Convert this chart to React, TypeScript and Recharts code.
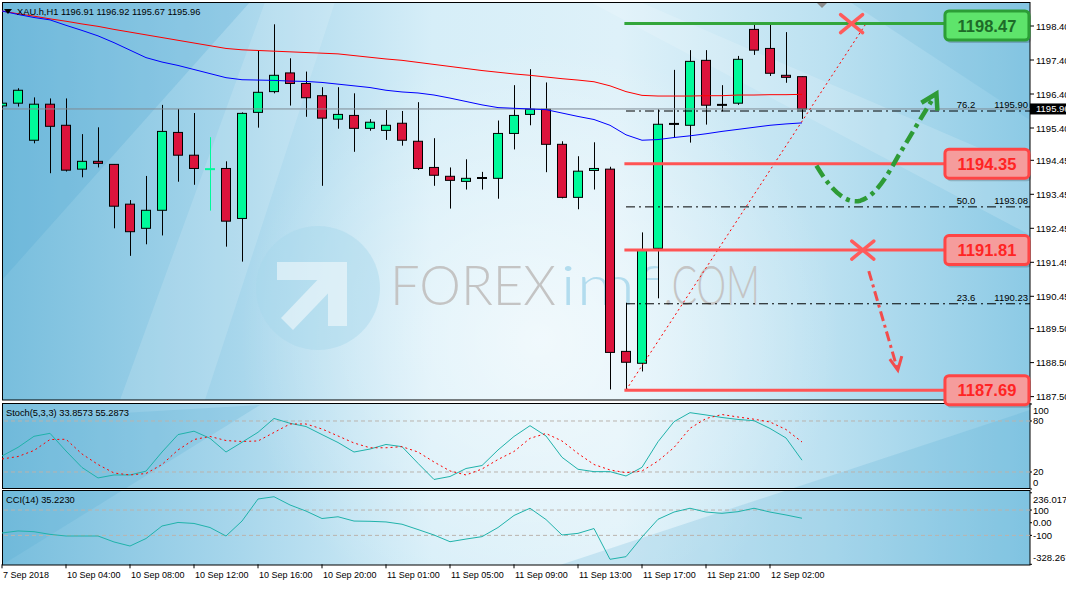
import React from 'react';
import { ComposedChart, Bar, Line, XAxis, YAxis, ReferenceLine, ReferenceDot } from 'recharts';

const W = 1066;
const H = 589;
const FONT = "'Liberation Sans', Arial, sans-serif";
const BULL = '#00fa9a';
const BEAR = '#dc143c';

// one entry per H1 candle
const times = [
  '7 Sep 23:00', '10 Sep 01:00', '10 Sep 02:00', '10 Sep 03:00', '10 Sep 04:00', '10 Sep 05:00',
  '10 Sep 06:00', '10 Sep 07:00', '10 Sep 08:00', '10 Sep 09:00', '10 Sep 10:00', '10 Sep 11:00',
  '10 Sep 12:00', '10 Sep 13:00', '10 Sep 14:00', '10 Sep 15:00', '10 Sep 16:00', '10 Sep 17:00',
  '10 Sep 18:00', '10 Sep 19:00', '10 Sep 20:00', '10 Sep 21:00', '10 Sep 22:00', '10 Sep 23:00',
  '11 Sep 01:00', '11 Sep 02:00', '11 Sep 03:00', '11 Sep 04:00', '11 Sep 05:00', '11 Sep 06:00',
  '11 Sep 07:00', '11 Sep 08:00', '11 Sep 09:00', '11 Sep 10:00', '11 Sep 11:00', '11 Sep 12:00',
  '11 Sep 13:00', '11 Sep 14:00', '11 Sep 15:00', '11 Sep 16:00', '11 Sep 17:00', '11 Sep 18:00',
  '11 Sep 19:00', '11 Sep 20:00', '11 Sep 21:00', '11 Sep 22:00', '11 Sep 23:00', '12 Sep 01:00',
  '12 Sep 02:00', '12 Sep 03:00', '12 Sep 04:00',
];

const open = [
  1196.05, 1196.13, 1195.04, 1196.1, 1195.48, 1194.19, 1194.42, 1194.33, 1193.16, 1192.45,
  1192.98, 1195.27, 1194.6, 1194.19, 1194.21, 1192.74, 1195.86, 1196.47, 1197.02, 1196.71,
  1196.35, 1195.66, 1195.77, 1195.39, 1195.33, 1195.54, 1195.01, 1194.24, 1193.98, 1193.83,
  1193.93, 1193.92, 1195.24, 1195.8, 1195.95, 1194.92, 1193.36, 1194.16, 1194.19, 1188.83,
  1188.48, 1191.86, 1195.52, 1195.48, 1197.39, 1196.08, 1196.13, 1198.3, 1197.74, 1196.95,
  1196.91,
];
const high = [
  1196.43, 1196.57, 1196.3, 1196.27, 1196.27, 1195.22, 1195.42, 1194.33, 1193.28, 1193.99,
  1196.08, 1195.96, 1195.84, 1195.13, 1194.42, 1195.86, 1197.69, 1198.45, 1197.45, 1197.06,
  1196.6, 1196.6, 1196.42, 1195.66, 1195.93, 1195.9, 1196.16, 1195.1, 1194.24, 1194.48,
  1194.11, 1195.62, 1196.66, 1197.13, 1196.74, 1195.01, 1194.57, 1194.98, 1194.26, 1190.26,
  1192.33, 1195.95, 1197.11, 1197.69, 1197.69, 1196.66, 1197.52, 1198.43, 1198.43, 1198.22,
  1196.92,
];
const low = [
  1195.34, 1196.03, 1194.95, 1194.07, 1194.12, 1193.95, 1194.24, 1192.45, 1191.64, 1191.98,
  1192.24, 1193.82, 1193.73, 1192.97, 1191.91, 1191.47, 1195.41, 1196.42, 1196.06, 1195.73,
  1193.7, 1195.38, 1194.7, 1195.32, 1195.05, 1194.88, 1194.17, 1193.7, 1193.03, 1193.59,
  1193.59, 1193.32, 1194.77, 1195.48, 1194.1, 1193.33, 1193.01, 1193.59, 1187.71, 1187.69,
  1188.24, 1190.39, 1195.11, 1194.97, 1195.5, 1195.89, 1196.08, 1197.55, 1196.93, 1196.73,
  1195.67,
];
const close = [
  1196.13, 1196.51, 1196.1, 1195.45, 1194.16, 1194.42, 1194.36, 1193.1, 1192.35, 1192.98,
  1195.3, 1194.6, 1194.21, 1194.19, 1192.66, 1195.83, 1196.45, 1196.95, 1196.71, 1196.29,
  1195.69, 1195.8, 1195.39, 1195.57, 1195.48, 1195.04, 1194.21, 1194.01, 1193.86, 1193.92,
  1193.93, 1195.24, 1195.77, 1195.95, 1194.92, 1193.36, 1194.13, 1194.21, 1188.8, 1188.51,
  1191.8, 1195.51, 1195.52, 1197.36, 1196.07, 1196.08, 1197.42, 1197.69, 1197.01, 1196.89,
  1195.96,
];

// moving averages (red slow, blue fast)
const maSlow = [
  1198.84, 1198.76, 1198.69, 1198.61, 1198.54, 1198.46, 1198.39, 1198.3, 1198.22, 1198.14,
  1198.06, 1197.98, 1197.9, 1197.82, 1197.74, 1197.7, 1197.68, 1197.66, 1197.64, 1197.62,
  1197.6, 1197.58, 1197.53, 1197.48, 1197.43, 1197.39, 1197.33, 1197.27, 1197.21, 1197.15,
  1197.09, 1197.04, 1196.99, 1196.95, 1196.9, 1196.85, 1196.81, 1196.76, 1196.64, 1196.47,
  1196.36, 1196.34, 1196.34, 1196.34, 1196.35, 1196.35, 1196.37, 1196.37, 1196.38, 1196.38,
  1196.39,
];
const maFast = [
  1198.84, 1198.74, 1198.65, 1198.58, 1198.42, 1198.27, 1198.11, 1197.91, 1197.69, 1197.47,
  1197.34, 1197.24, 1197.12, 1197.0, 1196.88, 1196.82, 1196.81, 1196.8, 1196.78, 1196.77,
  1196.74, 1196.69, 1196.64, 1196.59, 1196.51, 1196.46, 1196.43, 1196.37, 1196.28, 1196.18,
  1196.08, 1196.0, 1195.98, 1195.96, 1195.94, 1195.84, 1195.74, 1195.65, 1195.48, 1195.2,
  1195.04, 1195.06, 1195.12, 1195.17, 1195.23, 1195.3, 1195.36, 1195.42, 1195.48, 1195.52,
  1195.55,
];

const stochMain = [
  38.8, 49, 62, 65.5, 44.7, 25.3, 13, 16.5, 16.5, 21, 43.5, 64, 68, 59.6, 43.5, 55, 66.7,
  83, 77.3, 73.5, 64, 54.7, 43.5, 47, 52.4, 49.8, 30.2, 11.2, 14.7, 24.1, 27.6, 45.9, 61.8,
  74.5, 62.4, 37.3, 23.2, 20.4, 20.4, 15.3, 25.5, 55.6, 79.2, 89.8, 87.1, 84.1, 81.8, 80.4,
  71.2, 60, 33.86,
];
const stochSignal = [
  35.3, 38.2, 45.3, 58.2, 58.5, 41.2, 28.8, 18.8, 16.5, 18.2, 28.8, 45.9, 58.2, 61.8, 57,
  55.9, 56.5, 66.5, 76.5, 76.5, 70.6, 62.4, 54.1, 48.5, 48.5, 49.8, 43.5, 31.8, 21.2, 16.5,
  23.5, 34.7, 44.1, 59.6, 65.3, 56.5, 41.8, 28.8, 22.4, 19.2, 21.2, 32.9, 48.8, 71.4, 82.9,
  87.6, 84.7, 82.1, 78.8, 70, 55.29,
];
const cci = [
  -81, -65, -71, -92, -105, -105, -105, -152, -184, -125, -26, 2, -6, -38, -105, 13, 187,
  205, 140, 92, 33, 47, 13, 11, 6, -12, -54, -97, -150, -129, -110, -38, 57, 114, 25, -97,
  -84, -46, -289, -268, -113, 27, 84, 114, 84, 74, 87, 114, 84, 61, 35.22,
];

const priceTicks = [1198.4, 1197.4, 1196.4, 1195.4, 1194.45, 1193.45, 1192.45, 1191.45, 1190.45, 1189.5, 1188.5, 1187.5];
const timeTicks = [0, 4, 8, 12, 16, 20, 24, 28, 32, 36, 40, 44, 48];
const timeLabels = [
  '7 Sep 2018', '10 Sep 04:00', '10 Sep 08:00', '10 Sep 12:00', '10 Sep 16:00', '10 Sep 20:00',
  '11 Sep 01:00', '11 Sep 05:00', '11 Sep 09:00', '11 Sep 13:00', '11 Sep 17:00', '11 Sep 21:00',
  '12 Sep 02:00',
];
const stochTicks = [0, 20, 80, 100];
const cciTicks = [-328.267, -100, 0, 100, 236.017];

const resistance = 1198.47;
const supports = [1194.35, 1191.81, 1187.69];
const fibPct = ['76.2', '50.0', '23.6'];
const fibPrice = [1195.9, 1193.08, 1190.23];

const X_DOMAIN: [number, number] = [0, 64.25];
const PRICE_DOMAIN: [number, number] = [1187.4, 1199.106];
const STOCH_DOMAIN: [number, number] = [-0.01, 100];
const CCI_DOMAIN: [number, number] = [-328.267, 236.017];
const LAST = close[close.length - 1];
const GREEN_DOJI = 13;
const LEVEL_START = 39;
const BOX_X = 61.56;

const rows = times.map((t, i) => ({
  i,
  t,
  o: open[i],
  h: high[i],
  l: low[i],
  c: close[i],
  range: [low[i], high[i]],
  maSlow: maSlow[i],
  maFast: maFast[i],
  st: stochMain[i],
  sig: stochSignal[i],
  cci: cci[i],
}));

const Candle = (p: any) => {
  const { x, y, width, height, payload } = p;
  if (!payload) return null;
  const { o, h, l, c, i } = payload;
  const top = Math.min(y, y + height);
  const span = Math.abs(height);
  const k = h > l ? span / (h - l) : 0;
  const py = (v: number) => top + (h - v) * k;
  const cx = Math.floor(x + width / 2) + 0.5;
  const yo = py(o);
  const yc = py(c);
  const bTop = Math.min(yo, yc);
  const bH = Math.abs(yc - yo);
  const wick = i === GREEN_DOJI ? BULL : '#000';
  return (
    <g>
      <line x1={cx} x2={cx} y1={top} y2={top + span} stroke={wick} strokeWidth={1} />
      {bH < 1.2 ? (
        <line x1={x} x2={x + width} y1={yo} y2={yo} stroke={wick} strokeWidth={2} />
      ) : (
        <rect x={x + 0.5} y={bTop} width={width - 1} height={Math.max(bH, 2)}
          fill={c >= o ? BULL : BEAR} stroke="#000" strokeWidth={1} />
      )}
    </g>
  );
};

const PriceTick = (p: any) => {
  const v = p.payload.value;
  if (v === LAST) {
    return (
      <g>
        <rect x={1030} y={p.y - 5.5} width={40} height={11} fill="#000" />
        <text x={p.x} y={p.y + 3.5} fill="#fff" fontSize={9.5} fontFamily={FONT}>{v.toFixed(2)}</text>
      </g>
    );
  }
  return <text x={p.x} y={p.y + 3.5} fill="#000" fontSize={9.5} fontFamily={FONT}>{v.toFixed(2)}</text>;
};

const sideTick = (lo: number, hi: number, fmt: (v: number) => string) => (p: any) => {
  const v = p.payload.value;
  const shift = v >= hi ? 6.5 : v <= lo ? -6.5 : 0;
  return <text x={p.x} y={p.y + shift + 3.5} fill="#000" fontSize={9.5} fontFamily={FONT}>{fmt(v)}</text>;
};

const TimeTick = (p: any) => {
  const idx = timeTicks.indexOf(p.payload.value);
  return <text x={p.x + 1} y={p.y + 8} fill="#000" fontSize={9} fontFamily={FONT}>{timeLabels[idx]}</text>;
};

const levelBox = (label: string, up: boolean) => (p: any) => {
  const { cx, cy } = p;
  const top = Math.max(cy - 14.5, 11);
  return (
    <g>
      <rect x={cx - 40} y={top + 3} width={84} height={29} rx={4} fill="rgba(0,0,0,0.18)" />
      <rect x={cx - 42} y={top} width={84} height={29} rx={4}
        fill={up ? '#5ee46b' : '#f59c9c'} stroke={up ? '#2c9e36' : '#ff4545'} strokeWidth={3} />
      <text x={cx} y={top + 20.5} textAnchor="middle" fontSize={16.5} fontWeight="bold"
        fontFamily={FONT} fill={up ? '#1d6b28' : '#ff2424'}>{label}</text>
    </g>
  );
};

const fibLabel = (pct: string, price: number) => (p: any) => (
  <g fontFamily={FONT} fontSize={9.5} fill="#000">
    <text x={p.cx - 64} y={p.cy - 3} textAnchor="middle">{pct}</text>
    <text x={p.cx - 2} y={p.cy - 3} textAnchor="end">{price.toFixed(2)}</text>
  </g>
);

const Cross = (p: any) => (
  <g stroke="#ff5b5b" strokeWidth={3.5} strokeLinecap="round">
    <line x1={p.cx - 11} y1={p.cy - 9} x2={p.cx + 11} y2={p.cy + 9} />
    <line x1={p.cx - 11} y1={p.cy + 9} x2={p.cx + 11} y2={p.cy - 9} />
  </g>
);

const BounceArrow = (p: any) => {
  const { cx, cy } = p;
  const t = (dx: number, dy: number) => `${cx + dx},${cy + dy}`;
  return (
    <g fill="none" stroke="#2e9b36" strokeWidth={4.5} strokeDasharray="13 5 4 5">
      <path d={`M${t(0, 2)} C${t(18, 32)} ${t(32, 40)} ${t(44, 37)} C${t(58, 33)} ${t(70, 14)} ${t(82, -8)} L${t(117, -66)}`} />
      <polyline points={`${t(105, -61)} ${t(120, -70)} ${t(121, -53)}`} strokeDasharray="none" />
    </g>
  );
};

const DropArrow = (p: any) => {
  const { cx, cy } = p;
  const t = (dx: number, dy: number) => `${cx + dx},${cy + dy}`;
  return (
    <g fill="none" stroke="#f24d4d" strokeWidth={3} strokeDasharray="10 4 3 4">
      <path d={`M${t(6, 21)} L${t(34, 117)}`} />
      <polyline points={`${t(27, 109)} ${t(35, 120)} ${t(39, 106)}`} strokeDasharray="none" />
    </g>
  );
};

const Background = () => (
  <svg width={W} height={H} style={{ position: 'absolute', left: 0, top: 0 }}>
    <defs>
      <linearGradient id="bg" gradientUnits="userSpaceOnUse" x1="0" y1="0" x2="1030" y2="0">
        <stop offset="0" stopColor="#78bedd" />
        <stop offset="0.22" stopColor="#a5d5eb" />
        <stop offset="0.42" stopColor="#d6eef8" />
        <stop offset="0.6" stopColor="#def1f9" />
        <stop offset="0.8" stopColor="#bce1f1" />
        <stop offset="1" stopColor="#8ccae5" />
      </linearGradient>
      <radialGradient id="glow" gradientUnits="userSpaceOnUse" cx="540" cy="340" r="300">
        <stop offset="0" stopColor="#ffffff" stopOpacity="0.6" />
        <stop offset="1" stopColor="#ffffff" stopOpacity="0" />
      </radialGradient>
      <clipPath id="panes">
        <rect x={2} y={2} width={1028} height={398} />
        <rect x={2} y={403} width={1028} height={86} />
        <rect x={2} y={491} width={1028} height={74} />
      </clipPath>
    </defs>
    <rect width={W} height={H} fill="#ffffff" />
    <g clipPath="url(#panes)">
      <rect x={2} y={2} width={1028} height={563} fill="url(#bg)" />
      <rect x={2} y={2} width={1028} height={563} fill="url(#glow)" />
      <polygon points="2,2 250,2 2,280" fill="#4fa8d2" opacity={0.25} />
      <polygon points="120,400 265,2 335,2 205,400" fill="#ffffff" opacity={0.14} />
      <polygon points="640,2 1030,170 1030,235 590,2" fill="#ffffff" opacity={0.16} />
      <polygon points="560,565 1030,410 1030,565" fill="#4fa8d2" opacity={0.2} />
      <polygon points="2,420 260,405 2,565" fill="#4fa8d2" opacity={0.2} />
      <polygon points="850,2 1030,2 1030,120" fill="#4fa8d2" opacity={0.15} />
      <circle cx={318} cy={288} r={62} fill="#a6d6ec" opacity={0.45} />
      <g fill="#ffffff" opacity={0.5}>
        <polygon points="277,262 347,262 347,326 328,326 328,280 277,280" />
        <polygon points="281,318 325,272 337,284 293,330" />
      </g>
      <g fontSize={56} fontWeight={300} fontFamily="Lato, 'Open Sans', sans-serif">
        <text x={390} y={305} fill="#c4c4c4" textLength={166} lengthAdjust="spacingAndGlyphs">FOREX</text>
        <text x={560} y={305} fill="#b2dcee" textLength={100} lengthAdjust="spacingAndGlyphs">imf</text>
        <text x={664} y={305} fill="#c4c4c4" textLength={96} lengthAdjust="spacingAndGlyphs">.COM</text>
      </g>
    </g>
    <g fill="none" stroke="#000" strokeWidth={1}>
      <rect x={2.5} y={2.5} width={1027.5} height={397.5} />
      <rect x={2.5} y={403.5} width={1027.5} height={85} />
      <rect x={2.5} y={490.5} width={1027.5} height={74.5} />
    </g>
  </svg>
);

const Overlay = () => (
  <svg width={W} height={H} style={{ position: 'absolute', left: 0, top: 0, pointerEvents: 'none' }}>
    <polygon points="4,9 12,9 8,14" fill="#000" />
    <polygon points="817,3 827,3 822,8" fill="#8c8c8c" />
    <g fontFamily={FONT} fontSize={9.3} fill="#000">
      <text x={17} y={15}>XAU.h,H1  1196.91 1196.92 1195.67 1195.96</text>
      <text x={6} y={416}>Stoch(5,3,3) 33.8573 55.2873</text>
      <text x={6} y={503}>CCI(14) 35.2230</text>
    </g>
  </svg>
);

const layer: React.CSSProperties = { position: 'absolute', left: 0, top: 0 };

export default function App() {
  return (
    <div style={{ position: 'absolute', left: 0, top: 0, width: W, height: H, overflow: 'hidden', background: '#fff' }}>
      <Background />

      <div style={layer}>
        <ComposedChart width={W} height={H} data={rows} margin={{ top: 2, right: 0, bottom: 189, left: 2 }}>
          <XAxis type="number" dataKey="i" domain={X_DOMAIN} allowDataOverflow hide />
          <YAxis orientation="right" width={36} domain={PRICE_DOMAIN} allowDataOverflow
            ticks={[...priceTicks, LAST]} interval={0} tick={<PriceTick />}
            tickSize={4} tickMargin={2} axisLine={false} tickLine={{ stroke: '#000' }} />
          <ReferenceLine y={LAST} stroke="#7f8a94" strokeWidth={1} />
          <Bar dataKey="range" barSize={10} shape={<Candle />} isAnimationActive={false} />
          <Line dataKey="maSlow" type="linear" stroke="#ff0000" strokeWidth={1} dot={false} activeDot={false} isAnimationActive={false} />
          <Line dataKey="maFast" type="linear" stroke="#0000ff" strokeWidth={1} dot={false} activeDot={false} isAnimationActive={false} />
          {fibPrice.map((v) => (
            <ReferenceLine key={`f${v}`} segment={[{ x: LEVEL_START, y: v }, { x: X_DOMAIN[1], y: v }]}
              stroke="#000" strokeWidth={1} strokeDasharray="9 4 2 4" />
          ))}
          <ReferenceLine segment={[{ x: LEVEL_START, y: supports[2] }, { x: 54, y: resistance }]}
            stroke="#ff0000" strokeWidth={1} strokeDasharray="2 3" />
          <ReferenceLine segment={[{ x: LEVEL_START - 0.1, y: resistance }, { x: BOX_X, y: resistance }]}
            stroke="#33a63b" strokeWidth={3} />
          {supports.map((v) => (
            <ReferenceLine key={`s${v}`} segment={[{ x: LEVEL_START - 0.1, y: v }, { x: BOX_X, y: v }]}
              stroke="#ff5454" strokeWidth={3} />
          ))}
          {fibPrice.map((v, j) => (
            <ReferenceDot key={`fl${v}`} x={X_DOMAIN[1]} y={v} r={0} ifOverflow="visible" shape={fibLabel(fibPct[j], v)} />
          ))}
          <ReferenceDot x={50.9} y={supports[0]} r={0} ifOverflow="visible" shape={BounceArrow} />
          <ReferenceDot x={53.8} y={supports[1]} r={0} ifOverflow="visible" shape={DropArrow} />
          <ReferenceDot x={53.1} y={resistance} r={0} ifOverflow="visible" shape={Cross} />
          <ReferenceDot x={53.8} y={supports[1]} r={0} ifOverflow="visible" shape={Cross} />
          <ReferenceDot x={BOX_X} y={resistance} r={0} ifOverflow="visible" shape={levelBox(resistance.toFixed(2), true)} />
          {supports.map((v) => (
            <ReferenceDot key={`b${v}`} x={BOX_X} y={v} r={0} ifOverflow="visible" shape={levelBox(v.toFixed(2), false)} />
          ))}
        </ComposedChart>
      </div>

      <div style={layer}>
        <ComposedChart width={W} height={H} data={rows} margin={{ top: 404, right: 0, bottom: 100, left: 2 }}>
          <XAxis type="number" dataKey="i" domain={X_DOMAIN} allowDataOverflow hide />
          <YAxis orientation="right" width={36} domain={STOCH_DOMAIN} allowDataOverflow ticks={stochTicks}
            interval={0} tick={sideTick(0, 100, (v) => String(v))} tickSize={2} tickMargin={1}
            axisLine={false} tickLine={{ stroke: '#000' }} />
          <ReferenceLine y={80} stroke="#bab3ad" strokeDasharray="4 3" />
          <ReferenceLine y={20} stroke="#bab3ad" strokeDasharray="4 3" />
          <Line dataKey="st" type="linear" stroke="#20b2aa" strokeWidth={1} dot={false} activeDot={false} isAnimationActive={false} />
          <Line dataKey="sig" type="linear" stroke="#ff0000" strokeWidth={1} strokeDasharray="2 3" dot={false} activeDot={false} isAnimationActive={false} />
        </ComposedChart>
      </div>

      <div style={layer}>
        <ComposedChart width={W} height={H} data={rows} margin={{ top: 492.8, right: 0, bottom: 0, left: 2 }}>
          <XAxis type="number" dataKey="i" domain={X_DOMAIN} allowDataOverflow ticks={timeTicks}
            interval={0} height={24.7} tick={<TimeTick />} tickSize={4} tickMargin={2}
            axisLine={false} tickLine={{ stroke: '#000' }} />
          <YAxis orientation="right" width={36} domain={CCI_DOMAIN} allowDataOverflow ticks={cciTicks}
            interval={0} tick={sideTick(CCI_DOMAIN[0], CCI_DOMAIN[1], (v) => (v === 0 ? '0.00' : String(v)))}
            tickSize={2} tickMargin={1} axisLine={false} tickLine={{ stroke: '#000' }} />
          <ReferenceLine y={100} stroke="#bab3ad" strokeDasharray="4 3" />
          <ReferenceLine y={-100} stroke="#bab3ad" strokeDasharray="4 3" />
          <Line dataKey="cci" type="linear" stroke="#20b2aa" strokeWidth={1} dot={false} activeDot={false} isAnimationActive={false} />
        </ComposedChart>
      </div>

      <Overlay />
    </div>
  );
}
